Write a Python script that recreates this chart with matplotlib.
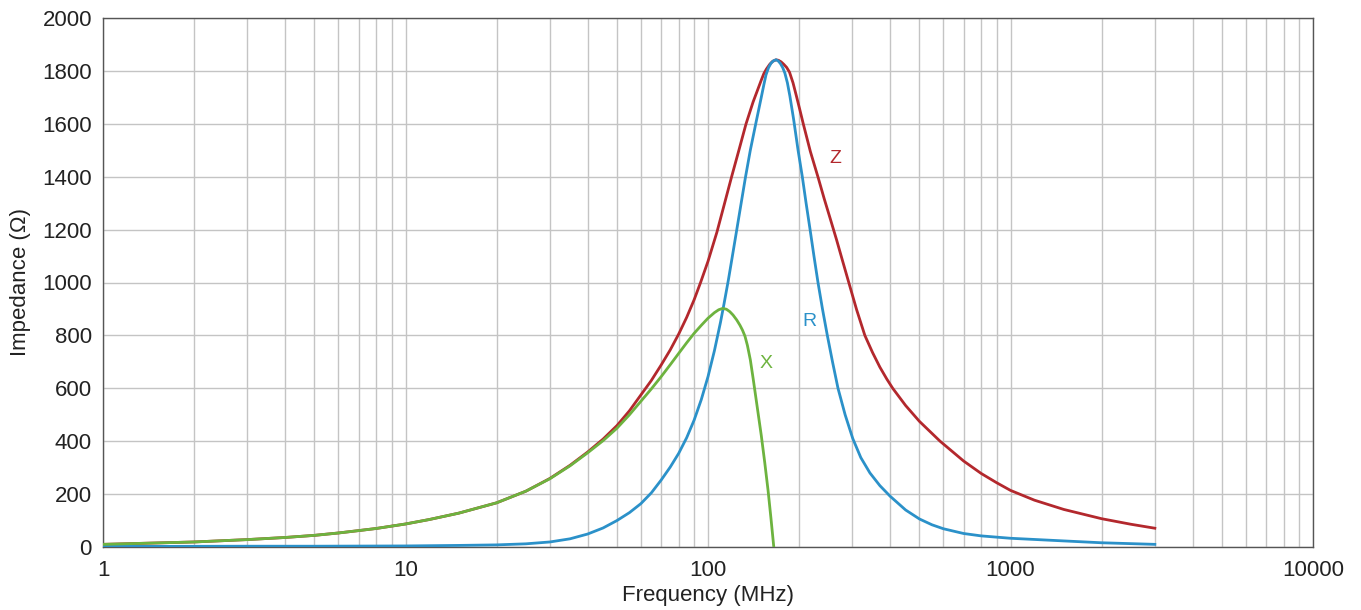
import matplotlib
matplotlib.use("Agg")
import matplotlib.pyplot as plt
from matplotlib.ticker import FixedLocator, NullFormatter

# values (frequency in MHz, impedance in ohm)
z_freq = [1, 2, 3, 4, 5, 6, 7, 8, 10, 12, 15, 20, 25, 30, 35, 40, 45, 50,
          55, 60, 65, 70, 75, 80, 85, 90, 94.5, 100, 107, 113, 119.7, 126.5,
          133.6, 138, 141, 145, 150, 153, 156, 160, 163.5, 167.8, 171, 174.5,
          178, 182, 186, 191, 196, 201, 206.5, 218, 231.5, 242, 253, 266, 278,
          292, 310, 330, 350, 370, 390, 408, 450, 500, 585, 700, 800, 900,
          1000, 1200, 1500, 2000, 2500, 3000]
z_vals = [10, 19, 28, 36, 44, 53, 62, 70, 87, 104, 128, 167, 211, 259, 309,
          359, 408, 459, 515, 575, 630, 688, 745, 805, 868, 935, 1000, 1080,
          1190, 1292, 1400, 1500, 1600, 1650, 1683, 1720, 1765, 1790, 1807,
          1825, 1836, 1842, 1840, 1834, 1825, 1813, 1795, 1755, 1705, 1655,
          1600, 1495, 1395, 1318, 1245, 1162, 1085, 1000, 897, 800, 735, 680,
          635, 600, 535, 475, 400, 325, 278, 243, 214, 177, 142, 107, 86, 71]

r_freq = [1, 3, 5, 10, 15, 20, 25, 30, 35, 40, 45, 50, 55, 60, 65, 70, 75,
          80, 85, 90, 95, 100, 105, 110, 113, 116.8, 120, 124, 128.5, 133,
          138, 144, 150, 153, 155.5, 158.5, 161.5, 164.5, 167.8, 170.5, 173.5,
          176.5, 179.5, 183, 186.5, 192, 198.5, 205, 211, 217.5, 224, 231,
          239, 248, 258, 269, 284, 301, 320, 343, 370, 400, 450, 500, 550,
          600, 700, 800, 1000, 1500, 2000, 3000]
r_vals = [2, 3, 3, 4, 6, 8, 12, 19, 31, 49, 72, 100, 130, 164, 205, 253, 302,
          354, 413, 480, 557, 644, 742, 850, 920, 1010, 1090, 1188, 1295, 1398,
          1500, 1603, 1700, 1748, 1785, 1812, 1829, 1838, 1842, 1838, 1828,
          1813, 1792, 1755, 1705, 1615, 1500, 1400, 1300, 1200, 1100, 1000,
          900, 800, 700, 600, 500, 410, 338, 280, 232, 192, 140, 106, 84, 69,
          51, 42, 33, 23, 16, 10]

x_freq = [1, 2, 3, 4, 5, 6, 7, 8, 10, 12, 15, 20, 25, 30, 35, 40, 45, 50, 55,
          60, 65, 70, 75, 80, 85, 90, 95, 100, 105, 108.5, 111.8, 115, 118,
          121, 124.5, 127.6, 130, 132.5, 135, 138, 141, 145, 150, 154, 158,
          161.5, 165]
x_vals = [10, 19, 28, 36, 44, 53, 62, 70, 87, 104, 128, 167, 211, 258, 307,
          356, 402, 449, 500, 551, 598, 644, 689, 732, 772, 808, 838, 865, 886,
          897, 902, 899, 890, 877, 858, 838, 820, 797, 762, 708, 637, 540, 422,
          320, 213, 108, 0]

x_ticks = [1, 10, 100, 1000, 10000]
y_ticks = [0, 200, 400, 600, 800, 1000, 1200, 1400, 1600, 1800, 2000]

red = "#b3282d"
blue = "#2b91c9"
green = "#6db33f"

plt.rcParams["font.family"] = ["Liberation Sans", "DejaVu Sans"]

fig = plt.figure(figsize=(13.61, 6.10), dpi=100)
ax = fig.add_axes([103 / 1361, 63 / 610, 1210 / 1361, 529 / 610])

ax.set_xscale("log")
ax.set_xlim(1, 10000)
ax.set_ylim(0, 2000)

ax.plot(z_freq, z_vals, color=red, lw=2.0, zorder=3)
ax.plot(r_freq, r_vals, color=blue, lw=2.0, zorder=4)
ax.plot(x_freq, x_vals, color=green, lw=2.0, zorder=5)

ax.text(263, 1468, "Z", color=red, fontsize=14, ha="center", va="center")
ax.text(217, 852, "R", color=blue, fontsize=14, ha="center", va="center")
ax.text(155, 693, "X", color=green, fontsize=14, ha="center", va="center")

minor = [m * 10 ** e for e in range(4) for m in range(2, 10)]
ax.xaxis.set_major_locator(FixedLocator(x_ticks))
ax.xaxis.set_minor_locator(FixedLocator(minor))
ax.xaxis.set_minor_formatter(NullFormatter())
ax.set_xticklabels([str(t) for t in x_ticks])
ax.set_yticks(y_ticks)

ax.grid(True, which="both", axis="x", color="#c4c4c4", lw=1.0, zorder=0)
ax.grid(True, which="major", axis="y", color="#c4c4c4", lw=1.0, zorder=0)
ax.set_axisbelow(True)

ax.tick_params(which="both", length=0, labelsize=16, colors="#222222")
ax.tick_params(axis="x", pad=9)
ax.tick_params(axis="y", pad=8)
for s in ax.spines.values():
    s.set_color("#555555")
    s.set_linewidth(1.0)

ax.set_xlabel("Frequency (MHz)", fontsize=16, color="#222222", labelpad=3)
ax.set_ylabel("Impedance (\u03a9)", fontsize=16, color="#222222", labelpad=8)

fig.savefig("out.png", dpi=100)
